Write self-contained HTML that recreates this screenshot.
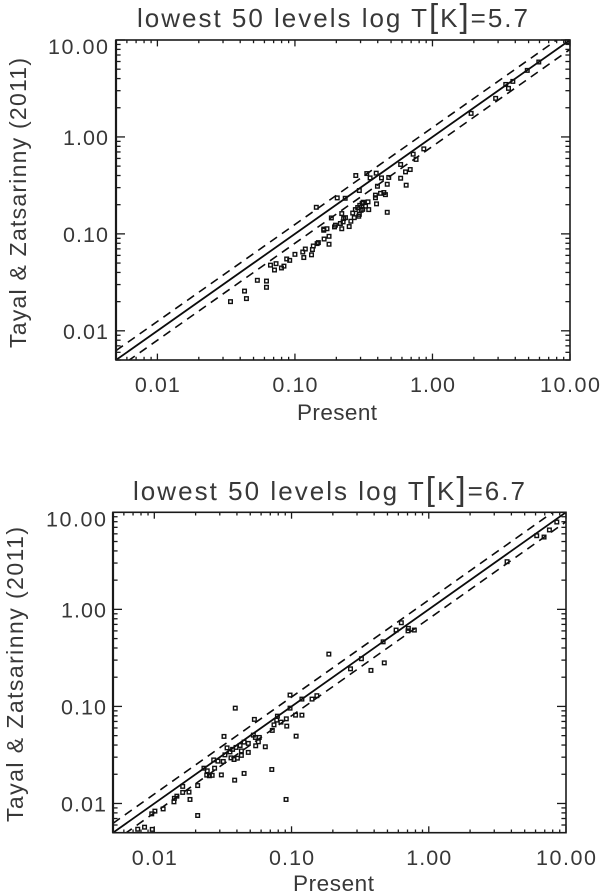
<!DOCTYPE html>
<html lang="en">
<head>
<meta charset="utf-8">
<title>Tayal &amp; Zatsarinny (2011) vs Present</title>
<style>
html,body{margin:0;padding:0;background:#fff;}
#figure{display:block;width:600px;height:895px;background:#fff;}
text{font-family:"Liberation Sans",sans-serif;fill:#383838;}
</style>
</head>
<body>
<svg id="figure" xmlns="http://www.w3.org/2000/svg" width="600" height="895" viewBox="0 0 600 895">
  <defs>
    <clipPath id="clip-top"><rect x="116" y="40" width="454" height="320"/></clipPath>
    <clipPath id="clip-bottom"><rect x="113" y="512.3" width="453" height="320.4"/></clipPath>
  </defs>
  <g id="panel-top">
    <text x="137" y="27" font-size="26" textLength="391" lengthAdjust="spacing">lowest 50 levels log T<tspan font-size="33">[</tspan>K<tspan font-size="33">]</tspan>=5.7</text>
    <text transform="translate(26,348) rotate(-90)" font-size="23" textLength="290" lengthAdjust="spacing">Tayal &amp; Zatsarinny (2011)</text>
    <text x="297" y="420" font-size="22.5" textLength="80" lengthAdjust="spacing">Present</text>
  </g>
  <g id="panel-bottom">
    <text x="133" y="500" font-size="26" textLength="392" lengthAdjust="spacing">lowest 50 levels log T<tspan font-size="33">[</tspan>K<tspan font-size="33">]</tspan>=6.7</text>
    <text transform="translate(23,822) rotate(-90)" font-size="23" textLength="295" lengthAdjust="spacing">Tayal &amp; Zatsarinny (2011)</text>
    <text x="293" y="891" font-size="22.5" textLength="81" lengthAdjust="spacing">Present</text>
  </g>
</svg>
<script>
const xTickValues = [0.01, 0.1, 1, 10];
const xTickLabels = ['0.01', '0.10', '1.00', '10.00'];
const yTickValues = [10, 1, 0.1, 0.01];
const yTickLabels = ['10.00', '1.00', '0.10', '0.01'];
const referenceRatios = [1, 1.25, 0.8];

const presentTop = [9.55,5.93,4.89,3.84,3.41,3.57,2.88,1.91,0.865,0.724,0.760,0.587,0.689,0.637,0.587,0.644,0.481,0.469,0.426,0.398,0.390,0.352,0.333,0.277,0.294,0.385,0.385,0.419,0.443,0.455,0.203,0.232,0.340,0.392,0.313,0.308,0.296,0.326,0.286,0.311,0.344,0.275,0.303,0.263,0.294,0.291,0.469,0.219,0.270,0.233,0.226,0.184,0.255,0.224,0.214,0.197,0.194,0.248,0.219,0.171,0.162,0.143,0.162,0.163,0.148,0.145,0.177,0.177,0.136,0.134,0.132,0.119,0.114,0.116,0.100,0.0871,0.0916,0.0832,0.0798,0.0729,0.0664,0.0710,0.0621,0.0621,0.0533,0.0430,0.0444,0.0340];
const tayalTop = [9.60,5.93,4.86,3.74,3.48,3.17,2.50,1.75,0.753,0.664,0.586,0.520,0.461,0.436,0.375,0.318,0.382,0.325,0.378,0.310,0.423,0.378,0.419,0.400,0.280,0.251,0.236,0.262,0.267,0.254,0.235,0.233,0.214,0.204,0.212,0.206,0.197,0.193,0.187,0.179,0.178,0.178,0.175,0.164,0.159,0.152,0.167,0.162,0.147,0.147,0.144,0.146,0.135,0.133,0.128,0.123,0.118,0.119,0.113,0.113,0.112,0.188,0.109,0.0885,0.0813,0.0794,0.0944,0.0782,0.0750,0.0689,0.0608,0.0698,0.0650,0.0570,0.0615,0.0551,0.0533,0.0465,0.0445,0.0493,0.0476,0.0424,0.0326,0.0281,0.0332,0.0257,0.0215,0.0200];

const presentBottom = [8.57,7.57,6.12,6.92,3.72,0.631,0.578,0.710,0.706,0.785,0.465,0.323,0.474,0.379,0.269,0.187,0.153,0.141,0.119,0.0975,0.0975,0.107,0.119,0.0389,0.0789,0.0536,0.0780,0.0837,0.0916,0.0923,0.0745,0.0724,0.108,0.0322,0.0527,0.0545,0.0582,0.0573,0.0548,0.0644,0.0484,0.0451,0.0422,0.0394,0.0372,0.0339,0.0356,0.0431,0.0484,0.0431,0.0327,0.0362,0.0381,0.0403,0.0271,0.0291,0.0318,0.0230,0.0243,0.0275,0.0241,0.0252,0.0264,0.0308,0.0451,0.0385,0.0718,0.0207,0.0161,0.0161,0.0179,0.0146,0.0182,0.0912,0.0140,0.0139,0.0116,0.0101,0.00958,0.0207,0.00757,0.00849,0.00966];
const tayalBottom = [7.94,6.58,5.74,5.56,3.10,0.728,0.612,0.637,0.601,0.612,0.463,0.310,0.281,0.235,0.244,0.346,0.129,0.119,0.119,0.131,0.0960,0.0813,0.0813,0.0960,0.0794,0.0735,0.0723,0.0689,0.0745,0.0627,0.0646,0.0566,0.0494,0.0491,0.0506,0.0479,0.0479,0.0432,0.0393,0.0384,0.0416,0.0429,0.0396,0.0378,0.0361,0.0374,0.0340,0.0348,0.0336,0.0313,0.0317,0.0295,0.0284,0.0293,0.0281,0.0273,0.0271,0.0231,0.0217,0.0231,0.0196,0.0193,0.0195,0.0197,0.0204,0.0174,0.0224,0.0153,0.0150,0.0130,0.0131,0.0119,0.0110,0.0110,0.0113,0.0104,0.00879,0.00834,0.00782,0.00752,0.00543,0.00570,0.00541];

const SVG_NS = 'http://www.w3.org/2000/svg';
const AXIS_MIN = 0.005;
const AXIS_MAX = 10;

function makeAxis(pixelAtMin, pixelAtMax) {
  const span = Math.log10(AXIS_MAX) - Math.log10(AXIS_MIN);
  return function (value) {
    return pixelAtMin + (Math.log10(value) - Math.log10(AXIS_MIN)) / span * (pixelAtMax - pixelAtMin);
  };
}

function shape(parent, tag, attrs) {
  const el = document.createElementNS(SVG_NS, tag);
  Object.keys(attrs).forEach(function (key) { el.setAttribute(key, attrs[key]); });
  parent.appendChild(el);
  return el;
}

function minorValues() {
  const out = [];
  [0.001, 0.01, 0.1, 1].forEach(function (decade) {
    for (let m = 2; m <= 9; m++) {
      const v = decade * m;
      if (v >= AXIS_MIN && v <= AXIS_MAX) out.push(v);
    }
  });
  return out;
}

function drawPanel(cfg) {
  const root = document.getElementById(cfg.id);
  const sx = makeAxis(cfg.left, cfg.right);
  const sy = makeAxis(cfg.bottom, cfg.top);

  const refGroup = shape(root, 'g', { 'clip-path': 'url(#' + cfg.clip + ')' });
  
  
  referenceRatios.forEach(function (ratio) {
    const line = shape(refGroup, 'line', {
      x1: sx(AXIS_MIN), y1: sy(AXIS_MIN * ratio),
      x2: sx(AXIS_MAX * 1.3), y2: sy(AXIS_MAX * 1.3 * ratio),
      stroke: '#0c0c0c',
      'stroke-width': ratio === 1 ? 1.8 : 1.6,
      'stroke-dasharray': ratio === 1 ? 'none' : '8.5 6'
    });
    
    
  });

  const pointGroup = shape(root, 'g', {});
  
  
  cfg.xs.forEach(function (xv, i) {
    const rect = shape(pointGroup, 'rect', {
      x: sx(xv) - 1.8, y: sy(cfg.ys[i]) - 1.8, width: 3.6, height: 3.6,
      fill: 'none', stroke: '#111', 'stroke-width': 1.4
    });
    
    
  });

  const axes = shape(root, 'g', { stroke: '#1a1a1a', fill: 'none' });
  
  

  const frame = shape(axes, 'rect', {
    x: cfg.left, y: cfg.top, width: cfg.right - cfg.left, height: cfg.bottom - cfg.top, 'stroke-width': 1.6
  });
  
  

  const leftEdge = shape(axes, 'line', {
    x1: cfg.left, y1: cfg.top, x2: cfg.left, y2: cfg.bottom, 'stroke-width': 2.2
  });
  
  

  function xTick(v, len) {
    const a = shape(axes, 'line', { x1: sx(v), x2: sx(v), y1: cfg.bottom, y2: cfg.bottom - len, 'stroke-width': 1.3 });
    
    
    const b = shape(axes, 'line', { x1: sx(v), x2: sx(v), y1: cfg.top, y2: cfg.top + len, 'stroke-width': 1.3 });
    
    
  }
  function yTick(v, len) {
    const a = shape(axes, 'line', { y1: sy(v), y2: sy(v), x1: cfg.left, x2: cfg.left + len, 'stroke-width': 1.3 });
    
    
    const b = shape(axes, 'line', { y1: sy(v), y2: sy(v), x1: cfg.right, x2: cfg.right - len, 'stroke-width': 1.3 });
    
    
  }
  minorValues().forEach(function (v) { xTick(v, 3.2); yTick(v, 4.6); });
  xTickValues.forEach(function (v) { xTick(v, 6.4); });
  yTickValues.forEach(function (v) { yTick(v, 9); });

  xTickLabels.forEach(function (label, i) {
    const width = label.length === 5 ? 60 : 45;
    const t = shape(root, 'text', {
      x: sx(xTickValues[i]) - width / 2, y: cfg.xLabelBaseline,
      'font-size': 21.5, textLength: width, lengthAdjust: 'spacing'
    });
    
    
    t.textContent = label;
  });
  yTickLabels.forEach(function (label, i) {
    const width = label.length === 5 ? 60 : 45;
    const shift = i === 0 ? 14 : 8;
    const t = shape(root, 'text', {
      x: cfg.yLabelRight - width, y: sy(yTickValues[i]) + shift,
      'font-size': 21.5, textLength: width, lengthAdjust: 'spacing'
    });
    
    
    t.textContent = label;
  });
}

drawPanel({
  id: 'panel-top', clip: 'clip-top',
  left: 116, right: 570, top: 40, bottom: 360,
  xs: presentTop, ys: tayalTop,
  xLabelBaseline: 392, yLabelRight: 108
});
drawPanel({
  id: 'panel-bottom', clip: 'clip-bottom',
  left: 113, right: 566, top: 512.3, bottom: 832.7,
  xs: presentBottom, ys: tayalBottom,
  xLabelBaseline: 865, yLabelRight: 106
});
</script>
</body>
</html>
